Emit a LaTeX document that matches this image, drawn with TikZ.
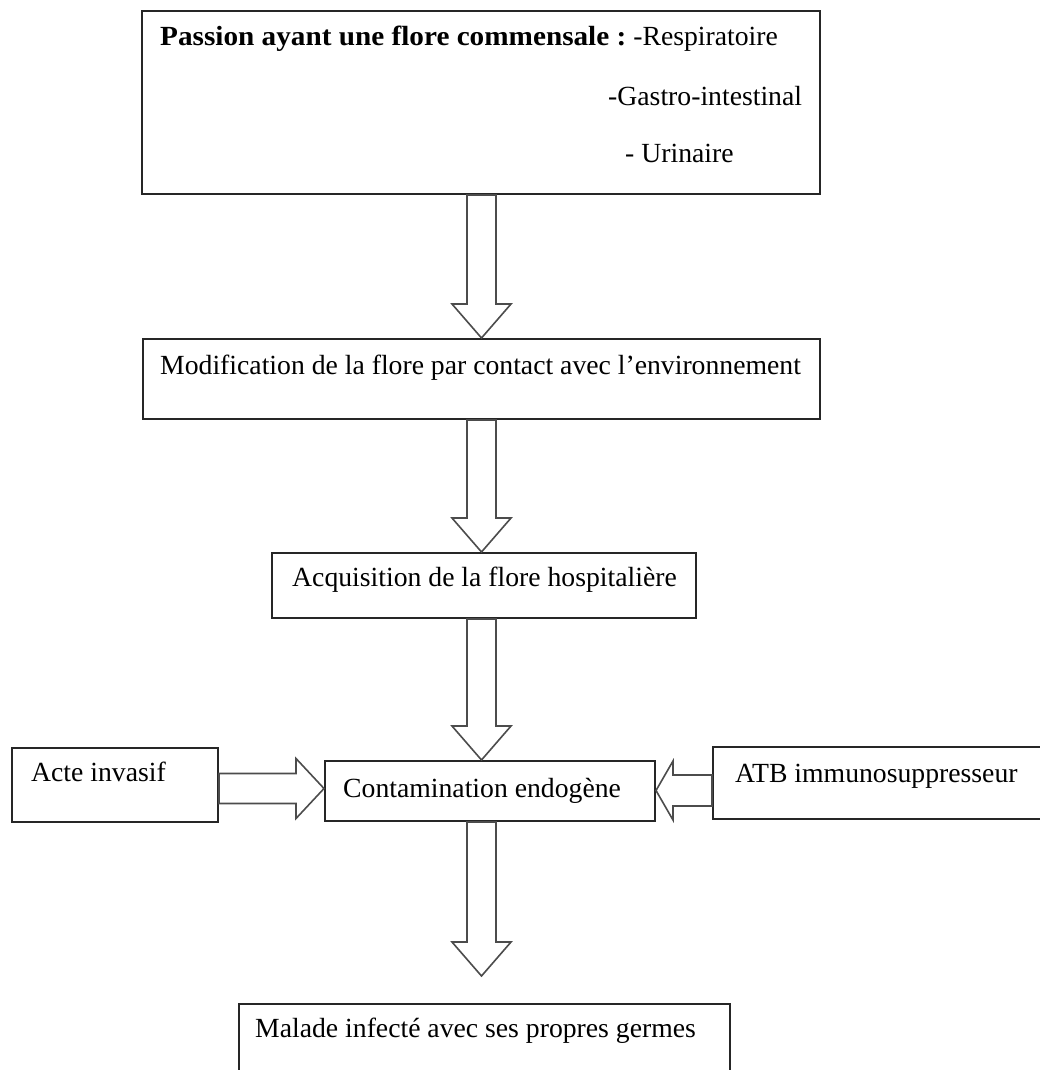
\documentclass[tikz,border=0pt]{standalone}
\usepackage{fontspec}
\setmainfont{Liberation Serif}
\usetikzlibrary{calc}

\tikzset{
  box/.style={draw=black!85, line width=2pt, rectangle, inner sep=0pt, fill=white},
  txt/.style={inner sep=0pt, anchor=base west, font=\fontsize{27.7pt}{33pt}\selectfont},
  arrowline/.style={draw=black!70, line width=1.6pt, fill=white, line join=miter},
}

% hollow block arrows: start point, tip point
\newcommand\downblock[2]{%
  \draw[arrowline] let \p1=(#1), \p2=(#2) in
    (\x1-14.5pt,\y1) -- (\x1-14.5pt,\y2+34pt) -- (\x1-29.5pt,\y2+34pt) -- (\x2,\y2)
    -- (\x1+29.5pt,\y2+34pt) -- (\x1+14.5pt,\y2+34pt) -- (\x1+14.5pt,\y1) -- cycle;}
\newcommand\rightblock[2]{%
  \draw[arrowline] let \p1=(#1), \p2=(#2) in
    (\x1,\y1+15pt) -- (\x2-28pt,\y1+15pt) -- (\x2-28pt,\y1+30pt) -- (\x2,\y2)
    -- (\x2-28pt,\y1-30pt) -- (\x2-28pt,\y1-15pt) -- (\x1,\y1-15pt) -- cycle;}
\newcommand\leftblock[2]{%
  \draw[arrowline] let \p1=(#1), \p2=(#2) in
    (\x1,\y1+15.5pt) -- (\x2+17pt,\y1+15.5pt) -- (\x2+17pt,\y1+29.5pt) -- (\x2,\y2)
    -- (\x2+17pt,\y1-29.5pt) -- (\x2+17pt,\y1-15.5pt) -- (\x1,\y1-15.5pt) -- cycle;}

\begin{document}
\begin{tikzpicture}[x=1pt, y=-1pt]
\useasboundingbox[fill=white] (0,0) rectangle (1040,1070);

% boxes
\node[box, minimum width=678pt, minimum height=183pt] (b1) at (481,102.5) {};
\node[box, minimum width=677pt, minimum height=80pt] (b2) at (481.5,379) {};
\node[box, minimum width=424pt, minimum height=65pt] (b3) at (484,585.5) {};
\node[box, minimum width=206pt, minimum height=74pt] (acte) at (115,785) {};
\node[box, minimum width=330pt, minimum height=60pt] (cont) at (490,791) {};
\node[box, minimum width=335pt, minimum height=72pt] (atb) at (880.5,782.5) {};
\node[box, minimum width=491pt, minimum height=81pt] (b6) at (484.5,1044.5) {};

% texts
\node[txt] (t1) at (160,46) {\scalebox{1.055}[1]{\textbf{Passion ayant une flore commensale :}} -Respiratoire};
\node[txt] (t1b) at (608,106) {-Gastro-intestinal};
\node[txt] (t1c) at (625,162) {- Urinaire};
\node[txt] (t2) at (160,374) {Modification de la flore par contact avec l’environnement};
\node[txt] (t3) at (292,586) {Acquisition de la flore hospitalière};
\node[txt] (tacte) at (31,781) {Acte invasif};
\node[txt] (tcont) at (343,797) {Contamination endogène};
\node[txt] (tatb) at (735,782) {ATB immunosuppresseur};
\node[txt] (t6) at (255,1037) {Malade infecté avec ses propres germes};

% axis of the vertical flow and row of the side inputs
\coordinate (col) at (481.5,0);
\coordinate (rowl) at (0,788.5);
\coordinate (rowr) at (0,790.5);

% vertical block arrows
\downblock{b1.south -| col}{b2.north -| col}
\downblock{b2.south -| col}{b3.north -| col}
\downblock{b3.south -| col}{cont.north -| col}
\downblock{cont.south -| col}{$(b6.north -| col)+(0,-27)$}

% side block arrows
\rightblock{acte.east |- rowl}{cont.west |- rowl}
\leftblock{atb.west |- rowr}{cont.east |- rowr}
\end{tikzpicture}
\end{document}
